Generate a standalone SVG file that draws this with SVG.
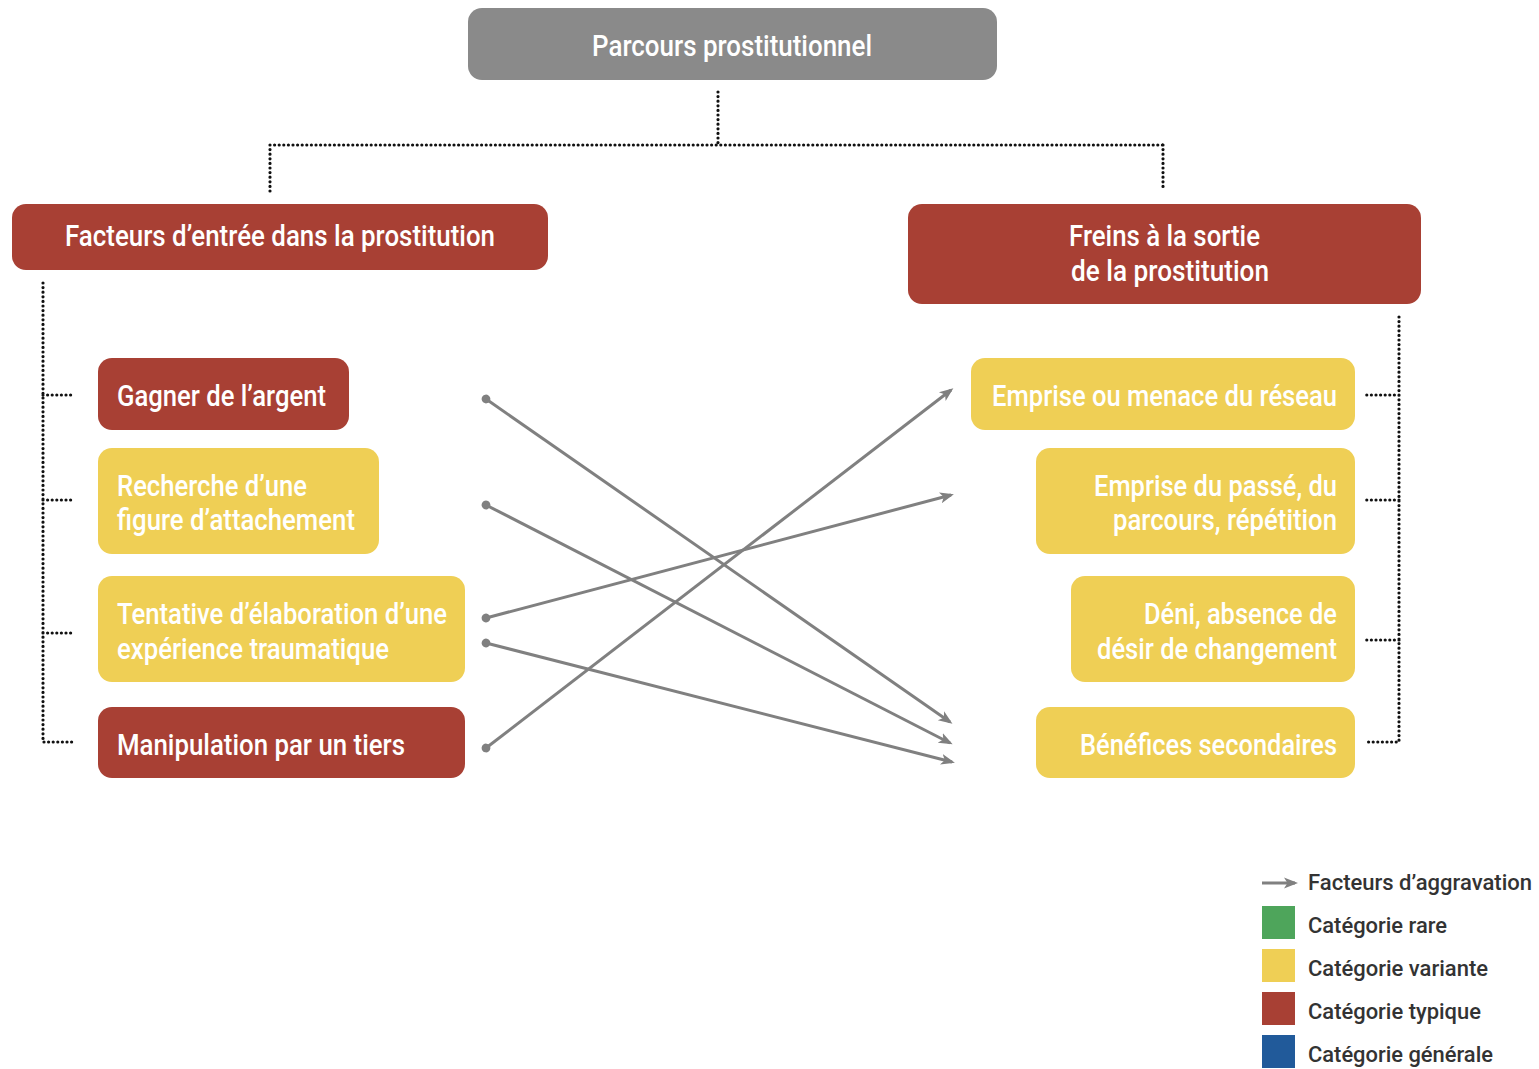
<svg xmlns="http://www.w3.org/2000/svg" width="1539" height="1069" viewBox="0 0 1539 1069">
<defs>
<style>
.red{fill:#a84034}
.yel{fill:#efcf55}
.gry{fill:#8a8a8a}
.t{font-family:Roboto,"Liberation Sans",sans-serif;font-weight:500;fill:#ffffff;font-size:29px}
.lg{font-family:Roboto,"Liberation Sans",sans-serif;font-weight:500;fill:#333333;font-size:22px}
.dot{fill:none;stroke:#111;stroke-width:3.2;stroke-linecap:round;stroke-dasharray:0 4.6}
.arr{fill:none;stroke:#808080;stroke-width:3}
</style>
<marker id="ah" markerWidth="14" markerHeight="14" refX="11" refY="7" orient="auto" markerUnits="userSpaceOnUse" viewBox="0 0 14 14">
<path d="M0,1.5 L14,7 L0,12.5 L3.5,7 Z" fill="#808080"/>
</marker>
<marker id="dt" markerWidth="10" markerHeight="10" refX="5" refY="5" orient="auto" markerUnits="userSpaceOnUse" viewBox="0 0 10 10">
<circle cx="5" cy="5" r="4.4" fill="#808080"/>
</marker>
</defs>
<rect width="1539" height="1069" fill="#ffffff"/>

<g id="connectors">
<path class="dot" d="M718,92 V145 M270,145 H1163 M270,145 V195 M1163,145 V190"/>
<path class="dot" d="M43,283 V742 H72 M43,395 H72 M43,500 H72 M43,633 H72"/>
<path class="dot" d="M1399,317 V742 H1365 M1399,395 H1365 M1399,500 H1365 M1399,640 H1365"/>
<line class="arr" x1="486" y1="399" x2="950" y2="722" marker-start="url(#dt)" marker-end="url(#ah)"/>
<line class="arr" x1="486" y1="505" x2="950" y2="743" marker-start="url(#dt)" marker-end="url(#ah)"/>
<line class="arr" x1="486" y1="618" x2="951" y2="495" marker-start="url(#dt)" marker-end="url(#ah)"/>
<line class="arr" x1="486" y1="643" x2="952" y2="762" marker-start="url(#dt)" marker-end="url(#ah)"/>
<line class="arr" x1="486" y1="748" x2="951" y2="390" marker-start="url(#dt)" marker-end="url(#ah)"/>
</g>

<g id="root">
<rect class="gry" x="468" y="8" width="529" height="72" rx="14"/>
<text class="t" x="592" y="56" font-size="27" textLength="280" lengthAdjust="spacingAndGlyphs">Parcours prostitutionnel</text>
</g>

<g id="entree">
<rect class="red" x="12" y="204" width="536" height="66" rx="14"/>
<text class="t" x="65" y="246" textLength="430" lengthAdjust="spacingAndGlyphs">Facteurs d’entrée dans la prostitution</text>
</g>

<g id="freins">
<rect class="red" x="908" y="204" width="513" height="100" rx="14"/>
<text class="t" x="1069" y="246" textLength="191" lengthAdjust="spacingAndGlyphs">Freins à la sortie</text>
<text class="t" x="1071" y="281" textLength="198" lengthAdjust="spacingAndGlyphs">de la prostitution</text>
</g>

<g id="argent">
<rect class="red" x="98" y="358" width="251" height="72" rx="14"/>
<text class="t" x="117" y="406" textLength="209" lengthAdjust="spacingAndGlyphs">Gagner de l’argent</text>
</g>

<g id="attachement">
<rect class="yel" x="98" y="448" width="281" height="106" rx="14"/>
<text class="t" x="117" y="496" textLength="190" lengthAdjust="spacingAndGlyphs">Recherche d’une</text>
<text class="t" x="117" y="530" textLength="238" lengthAdjust="spacingAndGlyphs">figure d’attachement</text>
</g>

<g id="tentative">
<rect class="yel" x="98" y="576" width="367" height="106" rx="14"/>
<text class="t" x="117" y="624" textLength="330" lengthAdjust="spacingAndGlyphs">Tentative d’élaboration d’une</text>
<text class="t" x="117" y="659" textLength="272" lengthAdjust="spacingAndGlyphs">expérience traumatique</text>
</g>

<g id="manipulation">
<rect class="red" x="98" y="707" width="367" height="71" rx="14"/>
<text class="t" x="117" y="755" textLength="288" lengthAdjust="spacingAndGlyphs">Manipulation par un tiers</text>
</g>

<g id="reseau">
<rect class="yel" x="971" y="358" width="384" height="72" rx="14"/>
<text class="t" x="992" y="406" textLength="345" lengthAdjust="spacingAndGlyphs">Emprise ou menace du réseau</text>
</g>

<g id="passe">
<rect class="yel" x="1036" y="448" width="319" height="106" rx="14"/>
<text class="t" x="1094" y="496" textLength="243" lengthAdjust="spacingAndGlyphs">Emprise du passé, du</text>
<text class="t" x="1113" y="530" textLength="224" lengthAdjust="spacingAndGlyphs">parcours, répétition</text>
</g>

<g id="deni">
<rect class="yel" x="1071" y="576" width="284" height="106" rx="14"/>
<text class="t" x="1144" y="624" textLength="193" lengthAdjust="spacingAndGlyphs">Déni, absence de</text>
<text class="t" x="1097" y="659" textLength="240" lengthAdjust="spacingAndGlyphs">désir de changement</text>
</g>

<g id="benefices">
<rect class="yel" x="1036" y="707" width="319" height="71" rx="14"/>
<text class="t" x="1080" y="755" textLength="257" lengthAdjust="spacingAndGlyphs">Bénéfices secondaires</text>
</g>

<g id="legend">
<line class="arr" x1="1262" y1="883" x2="1295" y2="883" marker-end="url(#ah)"/>
<text class="lg" x="1308" y="890" textLength="224" lengthAdjust="spacingAndGlyphs">Facteurs d’aggravation</text>
<rect x="1262" y="906" width="33" height="33" fill="#4ea55b"/>
<text class="lg" x="1308" y="933" textLength="139" lengthAdjust="spacingAndGlyphs">Catégorie rare</text>
<rect x="1262" y="949" width="33" height="33" fill="#efcf55"/>
<text class="lg" x="1308" y="976" textLength="180" lengthAdjust="spacingAndGlyphs">Catégorie variante</text>
<rect x="1262" y="992" width="33" height="33" fill="#a84034"/>
<text class="lg" x="1308" y="1019" textLength="173" lengthAdjust="spacingAndGlyphs">Catégorie typique</text>
<rect x="1262" y="1035" width="33" height="33" fill="#215a9a"/>
<text class="lg" x="1308" y="1062" textLength="185" lengthAdjust="spacingAndGlyphs">Catégorie générale</text>
</g>
</svg>
